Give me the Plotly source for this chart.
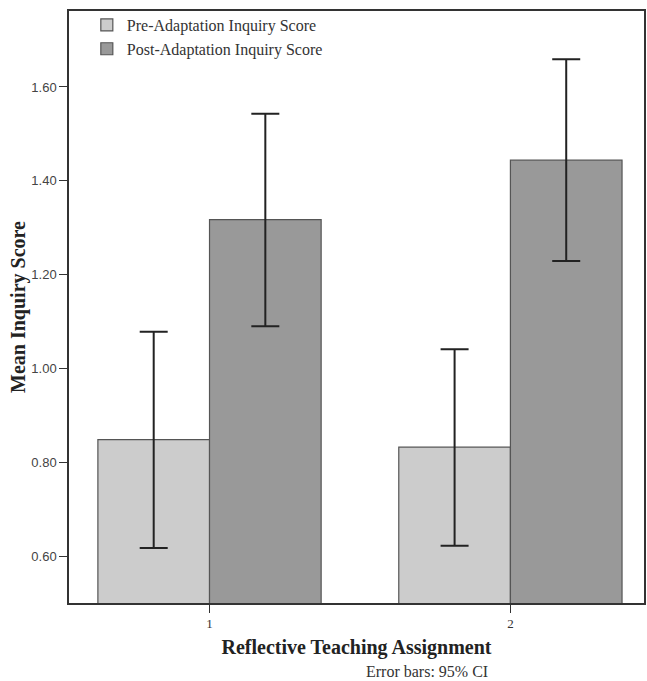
import plotly.graph_objects as go

categories = [1, 2]
series_names = ["Pre-Adaptation Inquiry Score", "Post-Adaptation Inquiry Score"]
pre_means = [0.848, 0.832]
pre_err_plus = [0.230, 0.209]
pre_err_minus = [0.231, 0.210]
post_means = [1.317, 1.444]
post_err_plus = [0.226, 0.215]
post_err_minus = [0.227, 0.215]
y_ticks = [0.60, 0.80, 1.00, 1.20, 1.40, 1.60]
y_tick_labels = ["0.60", "0.80", "1.00", "1.20", "1.40", "1.60"]

serif = "Liberation Serif, Times New Roman, serif"
sans = "Liberation Sans, Arial, sans-serif"

fig = go.Figure()
for name, means, ep, em, color in [
    (series_names[0], pre_means, pre_err_plus, pre_err_minus, "#cccccc"),
    (series_names[1], post_means, post_err_plus, post_err_minus, "#999999"),
]:
    fig.add_trace(go.Bar(
        x=categories, y=means, name=name,
        marker=dict(color=color, line=dict(color="#555555", width=1.2)),
        error_y=dict(type="data", array=ep, arrayminus=em, symmetric=False,
                     color="#222222", thickness=2, width=14),
    ))

fig.update_layout(
    width=647, height=681,
    margin=dict(l=69, r=1, t=11, b=78),
    paper_bgcolor="white", plot_bgcolor="white",
    barmode="group", bargap=0.258, bargroupgap=0,
    showlegend=True,
    legend=dict(x=0.031, y=1.005, xanchor="left", yanchor="top",
                bgcolor="rgba(0,0,0,0)", font=dict(family=serif, size=16, color="#333333"),
                tracegroupgap=0),
    xaxis=dict(range=[0.533, 2.444], tickvals=categories, ticktext=["1", "2"],
               ticks="outside", ticklen=8, tickcolor="#333333", tickwidth=1.3,
               showline=True, linecolor="#333333", linewidth=1.5, mirror=True,
               showgrid=False, zeroline=False,
               tickfont=dict(family=serif, size=13, color="#333333"),
               title=dict(text="<b>Reflective Teaching Assignment</b>",
                          font=dict(family=serif, size=20, color="#222222"), standoff=10)),
    yaxis=dict(range=[0.4998, 1.762], tickvals=y_ticks, ticktext=y_tick_labels,
               ticks="outside", ticklen=8, tickcolor="#333333", tickwidth=1.3,
               showline=True, linecolor="#333333", linewidth=1.5, mirror=True,
               showgrid=False, zeroline=False,
               tickfont=dict(family=sans, size=13, color="#444444"),
               title=dict(text="<b>Mean Inquiry Score</b>",
                          font=dict(family=serif, size=20, color="#222222"), standoff=0)),
    annotations=[dict(text="Error bars: 95% CI", xref="paper", yref="paper",
                      x=(428 - 69) / 577, y=-(672 - 603) / 592, xanchor="center", yanchor="middle",
                      showarrow=False, font=dict(family=serif, size=16, color="#333333"))],
)

fig.write_html("out.html", config={"displayModeBar": False},
               post_script="document.body.style.margin='0';")
